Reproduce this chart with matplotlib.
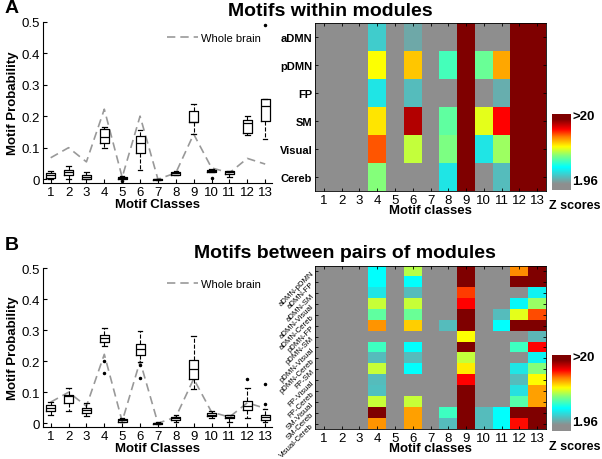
import numpy as np
import matplotlib
matplotlib.use("Agg")
import matplotlib.pyplot as plt
from matplotlib.colors import LinearSegmentedColormap, Normalize

plt.rcParams["font.family"] = ["Liberation Sans", "DejaVu Sans"]

# ---- data ----
classes = list(range(1, 14))
whole_brain = [0.068, 0.100, 0.055, 0.222, 0.006, 0.200, 0.000, 0.020, 0.143, 0.036, 0.020, 0.066, 0.048]

# panel A boxplot stats (per motif class)
a_med = [0.012, 0.022, 0.006, 0.133, 0.004, 0.115, 0.000, 0.019, 0.183, 0.026, 0.022, 0.179, 0.231]
a_q1 = [0.004, 0.012, 0.000, 0.115, 0.001, 0.083, -0.003, 0.012, 0.181, 0.023, 0.015, 0.146, 0.184]
a_q3 = [0.020, 0.030, 0.012, 0.160, 0.007, 0.138, 0.001, 0.024, 0.215, 0.030, 0.025, 0.188, 0.255]
a_lo = [0.001, 0.000, 0.000, 0.100, 0.001, 0.030, -0.003, 0.012, 0.144, 0.023, 0.008, 0.140, 0.128]
a_hi = [0.025, 0.043, 0.024, 0.167, 0.009, 0.157, 0.002, 0.026, 0.238, 0.032, 0.027, 0.200, 0.255]
a_fl = [[], [], [], [], [-0.005], [], [], [], [], [0.004], [], [], [0.49]]

# panel B boxplot stats
b_med = [0.049, 0.089, 0.043, 0.274, 0.011, 0.238, 0.000, 0.016, 0.175, 0.028, 0.021, 0.057, 0.019]
b_q1 = [0.040, 0.066, 0.033, 0.263, 0.005, 0.220, -0.002, 0.010, 0.141, 0.023, 0.016, 0.044, 0.009]
b_q3 = [0.059, 0.092, 0.049, 0.285, 0.014, 0.256, 0.002, 0.020, 0.205, 0.033, 0.025, 0.071, 0.027]
b_lo = [0.027, 0.041, 0.023, 0.250, 0.003, 0.197, -0.003, 0.005, 0.110, 0.017, 0.005, 0.017, 0.005]
b_hi = [0.068, 0.113, 0.066, 0.306, 0.017, 0.297, 0.003, 0.025, 0.280, 0.039, 0.028, 0.113, 0.046]
b_fl = [[], [], [], [0.200, 0.163], [], [0.188, 0.146], [], [], [], [], [], [0.141], [0.062, 0.126]]

# heatmap Z scores (0 = below 1.96, 25 = >20)
mods = ["aDMN", "pDMN", "FP", "SM", "Visual", "Cereb"]
z_within = [
    [0, 0, 0, 5.6, 0, 4.3, 0, 0, 25, 0, 0, 25, 25],
    [0, 0, 0, 12.2, 0, 13.3, 0, 8.8, 25, 9.6, 13.8, 25, 25],
    [0, 0, 0, 6.5, 0, 5.0, 0, 0, 25, 0, 4.5, 25, 25],
    [0, 0, 0, 12.7, 0, 17.8, 0, 9.4, 25, 11.8, 16.4, 25, 25],
    [0, 0, 0, 15.2, 0, 11.2, 0, 10.0, 25, 6.5, 10.6, 25, 25],
    [0, 0, 0, 10.2, 0, 0, 0, 6.5, 25, 0, 5.0, 25, 25],
]
pairs = ["aDMN-pDMN", "aDMN-FP", "aDMN-SM", "aDMN-Visual", "aDMN-Cereb",
         "pDMN-FP", "pDMN-SM", "pDMN-Visual", "pDMN-Cereb", "FP-SM",
         "FP-Visual", "FP-Cereb", "SM-Visual", "SM-Cereb", "Visual-Cereb"]
z_between = [
    [0, 0, 0, 7.4, 0, 11.0, 0, 0, 25, 0, 0, 14.3, 25],
    [0, 0, 0, 7.4, 0, 7.4, 0, 0, 25, 0, 0, 25, 25],
    [0, 0, 0, 6.5, 0, 5.0, 0, 0, 15.5, 0, 0, 0, 7.0],
    [0, 0, 0, 11.3, 0, 11.3, 0, 0, 16.4, 0, 0, 7.2, 10.5],
    [0, 0, 0, 9.4, 0, 9.6, 0, 0, 25, 0, 5.0, 11.8, 15.3],
    [0, 0, 0, 14.2, 0, 13.1, 0, 5.0, 25, 0, 7.4, 25, 25],
    [0, 0, 0, 0, 0, 0, 0, 0, 12.2, 0, 0, 0, 4.8],
    [0, 0, 0, 8.7, 0, 7.4, 0, 0, 25, 0, 0, 8.7, 16.4],
    [0, 0, 0, 5.0, 0, 5.0, 0, 0, 11.2, 0, 0, 0, 7.0],
    [0, 0, 0, 11.3, 0, 7.4, 0, 0, 12.6, 0, 0, 6.5, 10.2],
    [0, 0, 0, 5.0, 0, 0, 0, 0, 16.4, 0, 0, 5.0, 12.3],
    [0, 0, 0, 5.2, 0, 0, 0, 0, 25, 0, 0, 6.3, 14.0],
    [0, 0, 0, 11.3, 0, 11.3, 0, 0, 25, 0, 0, 9.2, 14.0],
    [0, 0, 0, 25, 0, 14.0, 0, 8.7, 25, 5.0, 7.4, 25, 25],
    [0, 0, 0, 14.2, 0, 14.0, 0, 5.0, 25, 5.0, 7.4, 16.2, 25],
]

# ---- colormap: gray below, jet-like from cyan up ----
GRAY = (0.56, 0.56, 0.56)
cmap = LinearSegmentedColormap.from_list("zjet", [
    (0.0, GRAY), (0.08, GRAY), (0.30, (0, 1, 1)), (0.45, (0.5, 1, 0.5)),
    (0.57, (1, 1, 0)), (0.70, (1, 0.5, 0)), (0.80, (1, 0, 0)),
    (0.93, (0.5, 0, 0)), (1.0, (0.5, 0, 0))])
cmap.set_under(GRAY)
cmap.set_over((0.5, 0, 0))
norm = Normalize(1.96, 20)

fig = plt.figure(figsize=(6.02, 4.6), dpi=100)


def boxpanel(rect, med, q1, q3, lo, hi, fl):
    ax = fig.add_axes(rect)
    stats = [dict(med=m, q1=a, q3=b, whislo=l, whishi=h, fliers=f)
             for m, a, b, l, h, f in zip(med, q1, q3, lo, hi, fl)]
    ax.plot(classes, whole_brain, color="0.6", lw=1.2, dashes=(5, 3), label="Whole brain")
    ax.bxp(stats, positions=classes, widths=0.5, capwidths=0.25,
           boxprops=dict(color="black", lw=0.9),
           whiskerprops=dict(color="black", lw=0.8, linestyle="--"),
           capprops=dict(color="black", lw=0.9),
           medianprops=dict(color="black", lw=0.9),
           flierprops=dict(marker=".", markersize=3, markerfacecolor="black",
                           markeredgecolor="black"))
    ax.set_xlim(0.57, 13.4)
    ax.set_ylim(-0.012, 0.5)
    ax.set_xticks(classes)
    ax.set_xticklabels([str(c) for c in classes], fontsize=9.5)
    ax.set_yticks([0, 0.1, 0.2, 0.3, 0.4, 0.5])
    ax.set_yticklabels(["0", "0.1", "0.2", "0.3", "0.4", "0.5"], fontsize=9.5)
    ax.spines["top"].set_visible(False)
    ax.spines["right"].set_visible(False)
    ax.tick_params(direction="in", length=3, pad=2)
    ax.set_xlabel("Motif Classes", fontsize=9.5, fontweight="bold", labelpad=0)
    ax.set_ylabel("Motif Probability", fontsize=9.5, fontweight="bold", labelpad=2)
    ax.legend(loc="upper right", frameon=False, fontsize=8, handlelength=2.8,
              borderaxespad=0.6, handletextpad=0.3)
    return ax


def heatpanel(rect, z, rows, rotated):
    ax = fig.add_axes(rect)
    ax.imshow(np.array(z, dtype=float), cmap=cmap, norm=norm, aspect="auto",
              interpolation="nearest")
    ax.set_xticks(range(13))
    ax.set_xticklabels([str(c) for c in classes], fontsize=9.5)
    ax.set_yticks(range(len(rows)))
    if rotated:
        ax.set_yticklabels(rows, fontsize=5.6, rotation=45, ha="right",
                           rotation_mode="anchor")
    else:
        ax.set_yticklabels(rows, fontsize=8, fontweight="bold")
    ax.tick_params(direction="in", length=2.5, pad=2, top=True, right=True,
                   width=0.6)
    for s in ax.spines.values():
        s.set_linewidth(0.6)
    ax.set_xlabel("Motif classes", fontsize=9.5, fontweight="bold", labelpad=-1)
    return ax


def colorbar(rect):
    cax = fig.add_axes(rect)
    grad = np.linspace(1.96, 20, 256).reshape(-1, 1)
    cax.imshow(grad, cmap=cmap, norm=norm, aspect="auto", origin="lower")
    cax.set_xticks([])
    cax.set_yticks([])
    for s in cax.spines.values():
        s.set_visible(False)
    x1 = rect[0] + rect[2] + 0.004
    fig.text(x1, rect[1] + rect[3] - 0.005, ">20", fontsize=9.5, fontweight="bold",
             va="center", ha="left")
    fig.text(x1, rect[1] + 0.02, "1.96", fontsize=9.5, fontweight="bold",
             va="center", ha="left")
    fig.text(0.997, rect[1] - 0.033, "Z scores", fontsize=9,
             fontweight="bold", va="center", ha="right")


boxpanel([0.0714, 0.600, 0.381, 0.351], a_med, a_q1, a_q3, a_lo, a_hi, a_fl)
boxpanel([0.0714, 0.0696, 0.381, 0.3456], b_med, b_q1, b_q3, b_lo, b_hi, b_fl)
heatpanel([0.5233, 0.5826, 0.3837, 0.3652], z_within, mods, False)
heatpanel([0.5233, 0.0652, 0.3837, 0.3544], z_between, pairs, True)
colorbar([0.917, 0.585, 0.030, 0.165])
colorbar([0.917, 0.0615, 0.030, 0.165])

fig.text(0.548, 0.974, "Motifs within modules", fontsize=14, fontweight="bold",
         ha="center", va="center")
fig.text(0.573, 0.449, "Motifs between pairs of modules", fontsize=14,
         fontweight="bold", ha="center", va="center")
fig.text(0.008, 0.982, "A", fontsize=14, fontweight="bold", ha="left", va="center")
fig.text(0.008, 0.467, "B", fontsize=14, fontweight="bold", ha="left", va="center")

fig.savefig("out.png", dpi=100)
